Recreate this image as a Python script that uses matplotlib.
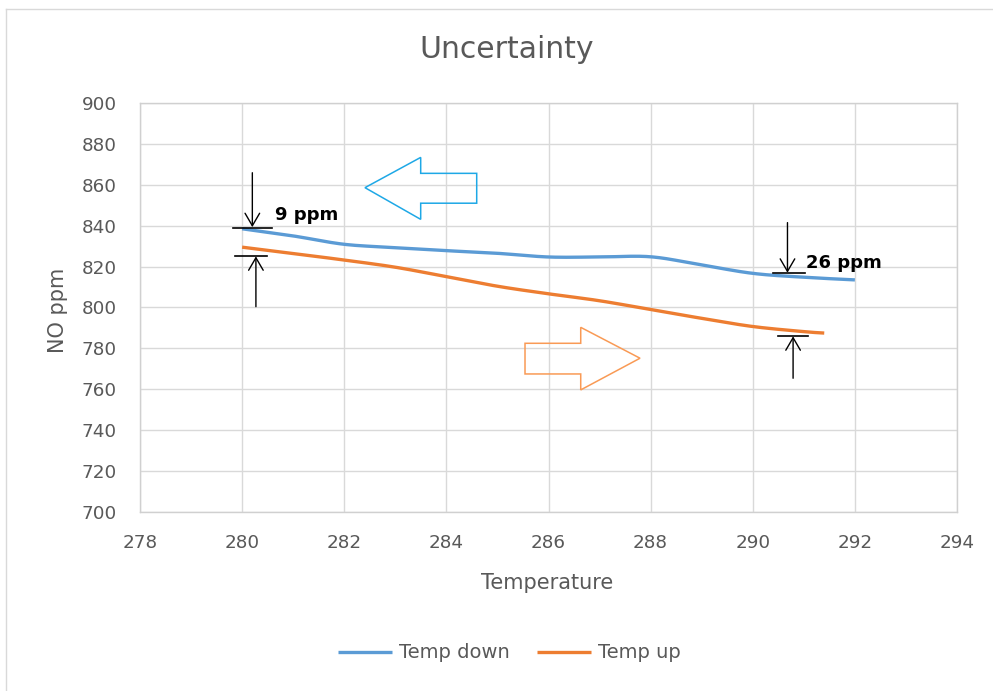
import numpy as np
import matplotlib
matplotlib.use("Agg")
import matplotlib.pyplot as plt
from matplotlib.patches import Polygon, FancyArrowPatch
from matplotlib.lines import Line2D

# --- data ---------------------------------------------------------------
temp_down_x = [280, 281, 282, 283, 284, 285, 286, 287, 288, 289, 290, 291, 292]
temp_down_y = [838.5, 835.0, 830.9, 829.3, 827.8, 826.5, 824.7, 824.7, 824.8,
               820.8, 816.7, 814.8, 813.5]
temp_up_x = [280, 281, 282, 283, 284, 285, 286, 287, 288, 289, 290, 291, 291.4]
temp_up_y = [829.5, 826.4, 823.2, 819.7, 815.1, 810.4, 806.7, 803.3, 799.0,
             794.7, 790.7, 788.2, 787.5]

x_ticks = [278, 280, 282, 284, 286, 288, 290, 292, 294]
y_ticks = [700, 720, 740, 760, 780, 800, 820, 840, 860, 880, 900]

gap_labels = ["9 ppm", "26 ppm"]

GREY = "#595959"
BLUE = "#5B9BD5"
ORANGE = "#ED7D31"


def smooth(xs, ys, n=24):
    """Cubic Bezier smoothing through every point (Catmull-Rom style)."""
    P = np.column_stack([xs, ys]).astype(float)
    out = []
    t = np.linspace(0, 1, n)[:, None]
    for i in range(len(P) - 1):
        p0 = P[i - 1] if i > 0 else P[i]
        p1, p2 = P[i], P[i + 1]
        p3 = P[i + 2] if i + 2 < len(P) else P[i + 1]
        c1 = p1 + (p2 - p0) / 6.0
        c2 = p2 - (p3 - p1) / 6.0
        seg = ((1 - t) ** 3) * p1 + 3 * ((1 - t) ** 2) * t * c1 \
            + 3 * (1 - t) * (t ** 2) * c2 + (t ** 3) * p2
        out.append(seg if i == 0 else seg[1:])
    return np.vstack(out)


fig = plt.figure(figsize=(9.93, 6.91), dpi=100)
ax = fig.add_axes([140 / 993, 1 - 512 / 691, 817 / 993, 409 / 691])

down = smooth(temp_down_x, temp_down_y)
up = smooth(temp_up_x, temp_up_y)
ax.plot(down[:, 0], down[:, 1], color=BLUE, lw=2.4, label="Temp down",
        solid_capstyle="butt", zorder=3)
ax.plot(up[:, 0], up[:, 1], color=ORANGE, lw=2.4, label="Temp up",
        solid_capstyle="butt", zorder=3)

ax.set_xlim(278, 294)
ax.set_ylim(700, 900)
ax.set_xticks(x_ticks)
ax.set_yticks(y_ticks)
ax.grid(True, color="#D9D9D9", lw=1.0, zorder=0)
ax.set_axisbelow(True)
for s in ax.spines.values():
    s.set_color("#D0D0D0")
    s.set_linewidth(1.0)
ax.tick_params(axis="both", length=0, labelsize=13.2, colors=GREY)
ax.tick_params(axis="y", pad=16.5)
ax.tick_params(axis="x", pad=15.5)

# hollow direction arrows
left_arrow = [(282.406, 858.6), (283.497, 873.4), (283.497, 865.6),
              (284.594, 865.6), (284.594, 851.0), (283.497, 851.0),
              (283.497, 843.1)]
right_arrow = [(285.540, 782.5), (286.631, 782.5), (286.631, 790.3),
               (287.792, 775.2), (286.631, 759.7), (286.631, 767.5),
               (285.540, 767.5)]
ax.add_patch(Polygon(left_arrow, closed=True, fill=False,
                     edgecolor="#1EA8E6", lw=1.1, zorder=4))
ax.add_patch(Polygon(right_arrow, closed=True, fill=False,
                     edgecolor="#F99A55", lw=1.1, zorder=4))


def arrow(x, y0, y1):
    ax.add_patch(FancyArrowPatch((x, y0), (x, y1),
                                 arrowstyle="->,head_length=0.6,head_width=0.35",
                                 mutation_scale=15, lw=1.0, color="black",
                                 shrinkA=0, shrinkB=0, zorder=5))


def bar(x0, x1, y):
    ax.plot([x0, x1], [y, y], color="black", lw=1.2, zorder=5)


# gap markers at the low-temperature end
arrow(280.20, 865.9, 839.3)
bar(279.83, 280.58, 839.0)
arrow(280.27, 800.4, 825.0)
bar(279.86, 280.48, 825.3)
ax.text(280.64, 845.2, gap_labels[0], fontsize=13, fontweight="bold",
        color="black", ha="left", va="center", zorder=6)

# gap markers at the high-temperature end
arrow(290.68, 841.5, 817.0)
bar(290.39, 291.02, 816.7)
arrow(290.79, 765.4, 785.9)
bar(290.50, 291.09, 786.2)
ax.text(291.04, 821.6, gap_labels[1], fontsize=13, fontweight="bold",
        color="black", ha="left", va="center", zorder=6)

# titles
fig.text(506.5 / 993, 1 - 50 / 691, "Uncertainty", fontsize=21.5,
         color=GREY, ha="center", va="center")
fig.text(547 / 993, 1 - 583 / 691, "Temperature", fontsize=15,
         color=GREY, ha="center", va="center")
fig.text(58 / 993, 1 - 310 / 691, "NO ppm", fontsize=15, color=GREY,
         ha="center", va="center", rotation=90)

fig.legend(loc="center", bbox_to_anchor=(509.5 / 993, 1 - 653 / 691),
           ncol=2, frameon=False, fontsize=14, labelcolor=GREY,
           handlelength=2.78, handletextpad=0.36, columnspacing=1.4)

# chart area border (top and left edges)
fig.add_artist(Line2D([6 / 993, 1], [1 - 9 / 691, 1 - 9 / 691],
                      transform=fig.transFigure, color="#D9D9D9", lw=1.0))
fig.add_artist(Line2D([6 / 993, 6 / 993], [0, 1 - 9 / 691],
                      transform=fig.transFigure, color="#D9D9D9", lw=1.0))

fig.savefig("out.png", dpi=100)
